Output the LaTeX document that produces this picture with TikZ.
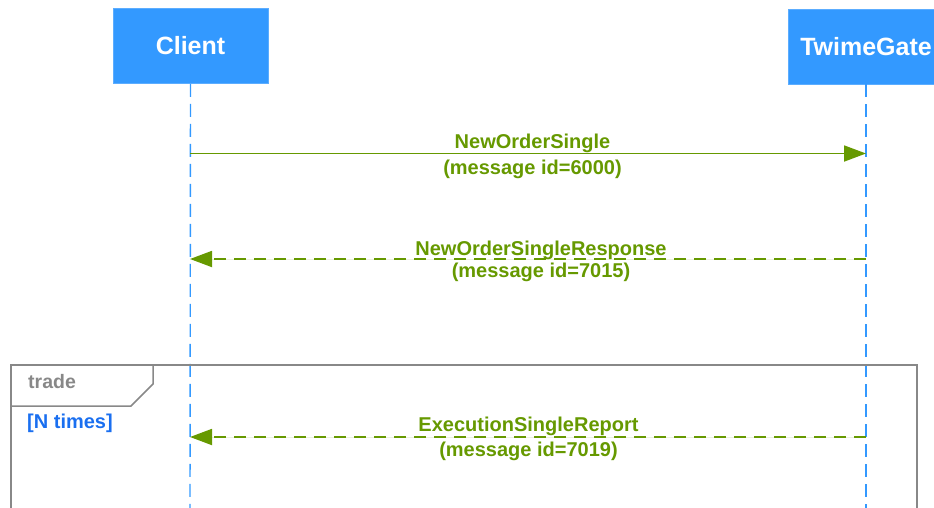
\documentclass[tikz,border=0pt]{standalone}
\usepackage{fontspec}
\setmainfont{Liberation Sans}
\usetikzlibrary{arrows.meta}
\definecolor{boxblue}{HTML}{3399FF}
\definecolor{msggreen}{HTML}{669900}
\definecolor{framegray}{HTML}{888888}
\definecolor{guardblue}{HTML}{1A6FF0}
\begin{document}
\begin{tikzpicture}[x=1pt,y=-1pt,
  actor/.style={fill=boxblue,draw=boxblue!80!white,line width=0.8pt,text=white,font=\fontsize{25}{28}\selectfont\bfseries,minimum height=75pt,inner sep=0pt},
  lifeline/.style={draw=boxblue,line width=1.4pt,dash pattern=on 13pt off 7pt},
  msg/.style={draw=msggreen,line width=1.8pt,-{Triangle[length=22pt,width=16pt]},fill=msggreen},
  reply/.style={msg,dash pattern=on 12pt off 8pt},
  msglabel/.style={text=msggreen,font=\fontsize{20}{24}\selectfont\bfseries,anchor=base,inner sep=0pt},
  framestyle/.style={draw=framegray,line width=1.5pt}]
\useasboundingbox (0,0) rectangle (934,507);
\node[actor,minimum width=155pt] (client) at (190.5,46) {Client};
\node[actor,minimum width=155pt] (gate) at (866,46.5) {TwimeGate};
\coordinate (cbot) at (190,510);
\coordinate (gbot) at (866,510);
\draw[lifeline] (client.south) -- (cbot);
\draw[lifeline] (gate.south) -- (gbot);
% frame
\draw[framestyle] (11,510) -- (11,365) -- (917,365) -- (917,510);
\draw[framestyle] (11,406) -- (131,406) -- (153,384) -- (153,365);
\node[text=framegray,font=\fontsize{19.5}{22}\selectfont\bfseries,anchor=base west,inner sep=0pt] (fl) at (28,388.5) {trade};
\node[text=guardblue,font=\fontsize{20}{22}\selectfont\bfseries,anchor=base west,inner sep=0pt] (guard) at (27,428.5) {[N times]};
% messages
\coordinate (c1) at (190,153.5);
\coordinate (g1) at (866,153.5);
\draw[msg] (c1) -- (g1);
\node[msglabel] (l1a) at (532.5,148.5) {NewOrderSingle};
\node[msglabel] (l1b) at (532.5,174.5) {(message id=6000)};
\coordinate (c2) at (190,259);
\coordinate (g2) at (866,259);
\draw[reply] (g2) -- (c2);
\node[msglabel] (l2a) at (541,255) {NewOrderSingleResponse};
\node[msglabel] (l2b) at (541,277) {(message id=7015)};
\coordinate (c3) at (190,437);
\coordinate (g3) at (866,437);
\draw[reply] (g3) -- (c3);
\node[msglabel] (l3a) at (528.5,431.5) {ExecutionSingleReport};
\node[msglabel] (l3b) at (528.5,456.5) {(message id=7019)};
\end{tikzpicture}
\end{document}
